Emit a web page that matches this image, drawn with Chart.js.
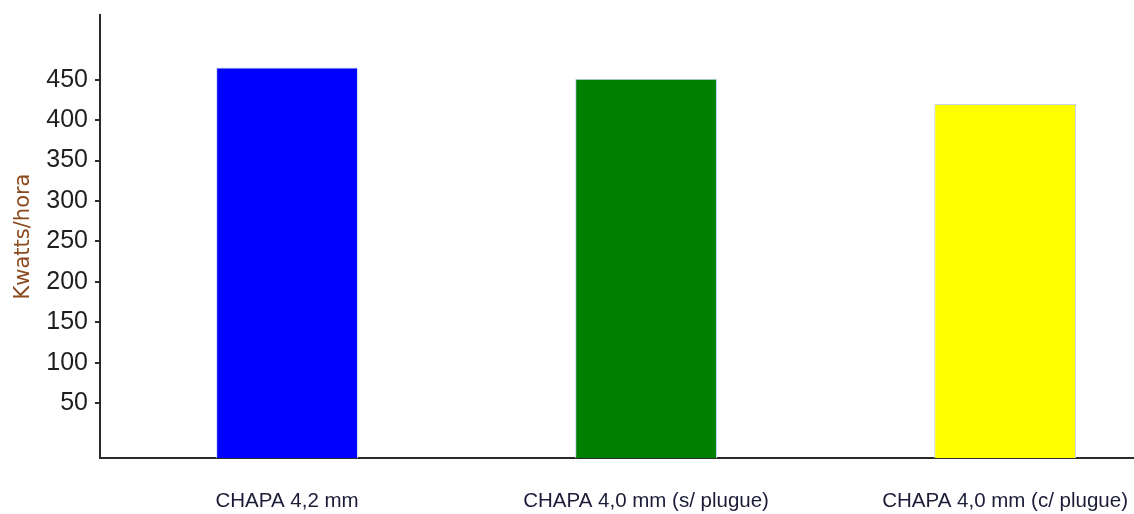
<!DOCTYPE html>
<html>
<head>
<meta charset="utf-8">
<script src="https://cdn.jsdelivr.net/npm/chart.js@4/dist/chart.umd.min.js"></script>
<style>
html,body{margin:0;padding:0;background:#fff;}
#wrap{width:1134px;height:514px;}
</style>
</head>
<body>
<div id="wrap"><canvas id="c" width="1134" height="514"></canvas></div>
<script>
const categories = ["CHAPA 4,2 mm", "CHAPA 4,0 mm (s/ plugue)", "CHAPA 4,0 mm (c/ plugue)"];
const values = [465, 451, 420];
const barColors = ["#0000ff", "#008000", "#ffff00"];
const yTicks = [50, 100, 150, 200, 250, 300, 350, 400, 450];
const yTitle = "Kwatts/hora";

const Y_MIN = -18, Y_MAX = 530;

new Chart(document.getElementById('c'), {
  type: 'bar',
  data: {
    datasets: [{
      data: values.map((v, i) => ({ x: i, y: v })),
      backgroundColor: barColors,
      borderColor: '#c8d6ef',
      borderWidth: 1,
      base: Y_MIN,
      categoryPercentage: 1,
      barPercentage: 0.395
    }]
  },
  options: {
    responsive: false,
    animation: false,
    layout: { padding: { top: 15, left: 0, right: 0, bottom: 0 } },
    plugins: { legend: { display: false }, tooltip: { enabled: false } },
    scales: {
      x: {
        type: 'linear',
        offset: false,
        min: -0.521,
        max: 2.359,
        grid: { display: false, drawTicks: false },
        border: { display: true, color: '#2a2a2a', width: 2 },
        afterBuildTicks: s => { s.ticks = categories.map((c, i) => ({ value: i })); },
        afterFit: s => { s.height = 56; s.paddingLeft = 0; s.paddingRight = 0; },
        ticks: {
          autoSkip: false,
          maxRotation: 0,
          padding: 31,
          color: '#1c1c38',
          font: { family: 'Liberation Sans', size: 20.5 },
          callback: v => categories[v]
        }
      },
      y: {
        min: Y_MIN,
        max: Y_MAX,
        afterBuildTicks: s => { s.ticks = yTicks.map(v => ({ value: v })); },
        afterFit: s => { s.width = 100; s.paddingTop = 0; s.paddingBottom = 0; },
        grid: { drawOnChartArea: false, drawTicks: true, tickLength: 5, color: '#2a2a2a', lineWidth: 2 },
        border: { display: true, color: '#2a2a2a', width: 2 },
        ticks: {
          padding: 7,
          color: '#1e1e1e',
          font: { family: 'Liberation Sans', size: 25 }
        },
        title: {
          display: true,
          text: yTitle,
          color: '#8a4a1e',
          font: { family: 'DejaVu Sans', size: 21 },
          padding: { top: 11, bottom: 0 }
        }
      }
    }
  }
});
</script>
</body>
</html>
